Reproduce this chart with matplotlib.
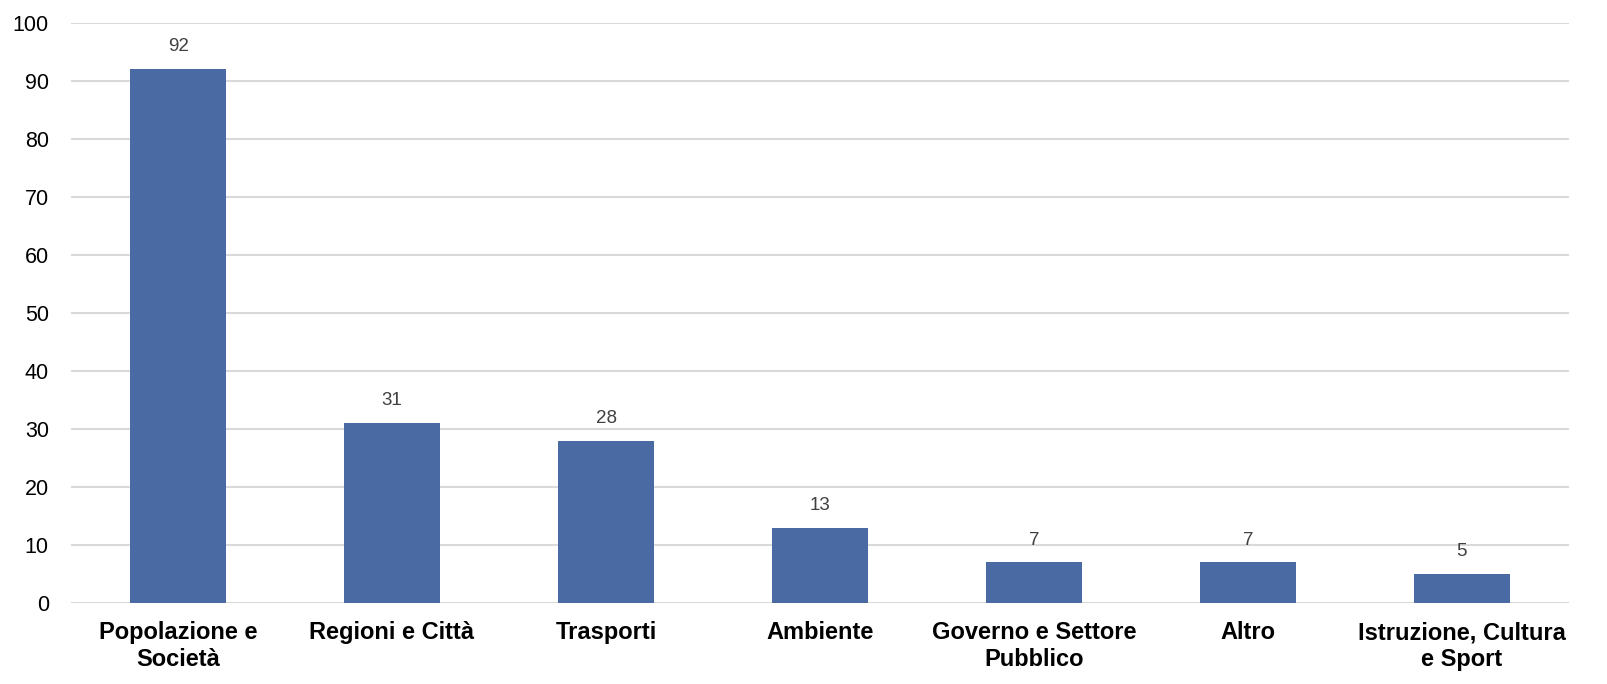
import matplotlib
matplotlib.use("Agg")
import matplotlib.pyplot as plt
import numpy as np

plt.rcParams['font.family'] = ['Liberation Sans', 'DejaVu Sans']

categories = ['Popolazione e\nSocietà', 'Regioni e Città', 'Trasporti', 'Ambiente',
              'Governo e Settore\nPubblico', 'Altro', 'Istruzione, Cultura\ne Sport']
values = [92, 31, 28, 13, 7, 7, 5]

barColour = '#4A6AA3'
gridColour = '#D9D9D9'

fig = plt.figure(figsize=(16.08, 6.84), dpi=100)
ax = fig.add_axes([0.0442, 0.1184, 0.9315, 0.848])

x = np.arange(len(categories))
bars = ax.bar(x, values, width=0.445, color=barColour, zorder=3)

for rect, v in zip(bars, values):
    ax.annotate(str(v), (rect.get_x() + rect.get_width() / 2, v),
                xytext=(0, 10), textcoords='offset points',
                ha='center', va='bottom', fontsize=13.5, color='#404040')

ax.set_xlim(-0.5, len(categories) - 0.5)
ax.set_ylim(0, 100)
ax.set_yticks(range(0, 101, 10))
ax.set_xticks(x)
ax.set_xticklabels(categories, fontsize=17, fontweight='bold', linespacing=1.2)
ax.tick_params(axis='y', length=0, pad=16, labelsize=15.5)
ax.tick_params(axis='x', length=0, pad=13)

ax.yaxis.grid(True, color=gridColour, linewidth=1.5, zorder=0)
for s in ax.spines.values():
    s.set_visible(False)

fig.savefig('out.png', dpi=100)
